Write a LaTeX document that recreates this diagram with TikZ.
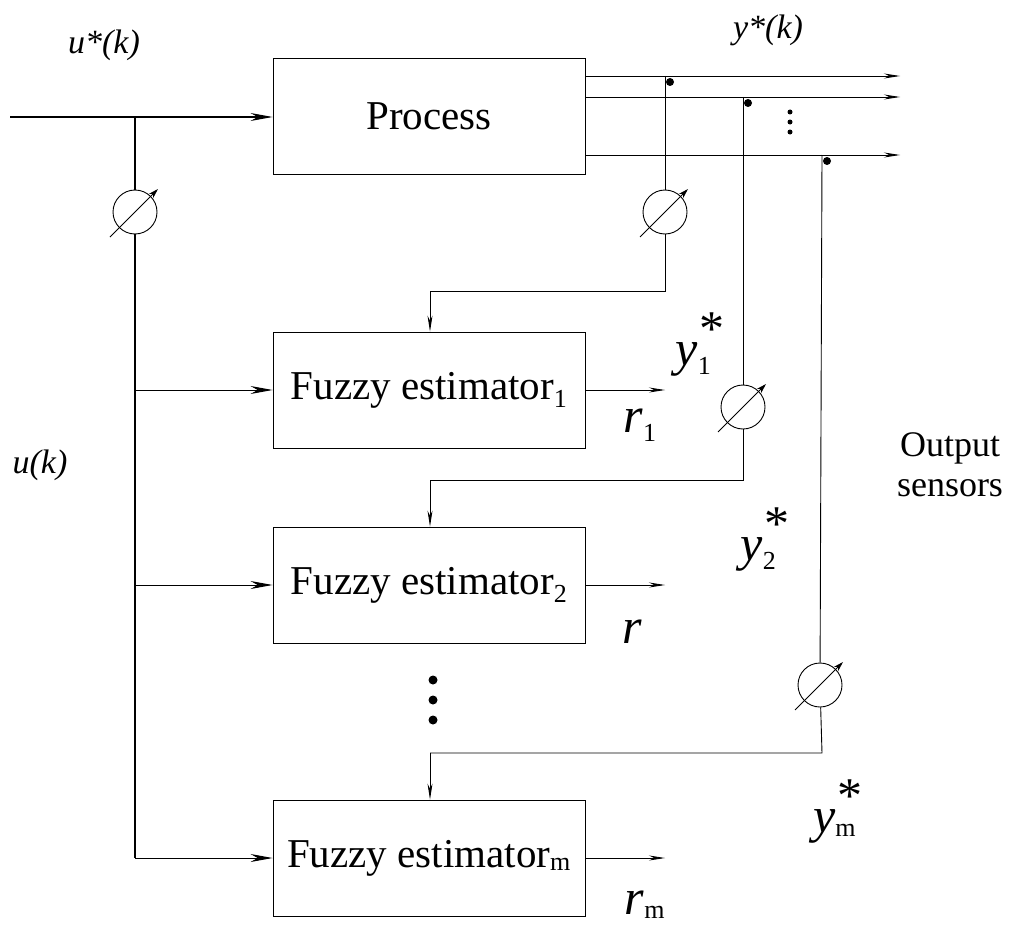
\documentclass[tikz,border=0pt]{standalone}
\usepackage{fontspec}
\setmainfont{Liberation Serif}
\usetikzlibrary{arrows.meta}
\tikzset{
  blk/.style={draw, line width=0.9pt, minimum width=312pt, minimum height=116pt, inner sep=0pt, font=\fontsize{41}{46}\selectfont},
  big/.style={-{Stealth[length=22pt,width=8pt]}, line width=1pt},
  sml/.style={-{Stealth[length=16pt,width=5pt]}, line width=0.9pt},
  lbl/.style={font=\fontsize{34}{40}\selectfont\itshape, inner sep=0pt},
  sym/.style={font=\fontsize{50}{56}\selectfont, inner sep=0pt},
  meter/.style={draw, circle, minimum size=44pt, inner sep=0pt, line width=0.9pt},
  dot/.style={circle, fill, inner sep=0pt, minimum size=8pt}
}
\newcommand{\gauge}[1]{\draw[-{Stealth[length=10pt,width=6pt]}, line width=0.9pt] (#1) ++(-25,25) -- ++(48,-48);}
\newcommand{\sub}[1]{\textsubscript{\normalfont\fontsize{26}{30}\selectfont #1}}
\begin{document}
\begin{tikzpicture}[x=1pt,y=-1pt]
\useasboundingbox (0,0) rectangle (1024,947);

%Blocks
\node[blk] (proc) at (429,116) {Process};
\node[blk] (est1) at (429,390) {Fuzzy estimator\sub{1}};
\node[blk] (est2) at (429,585) {Fuzzy estimator\sub{2}};
\node[blk] (estm) at (429,858) {Fuzzy estimator\sub{m}};

%Input side
\coordinate (in) at (10,117);
\coordinate (jn) at (135,117);
\coordinate (jb) at (135,858);
\node[meter] (mu) at (135,212) {};
\draw[big] (in) -- (proc.west |- in);
\draw[line width=1.5pt] (jn) -- (mu) -- (jb);
\gauge{mu}
\draw[big] (135,390) -- (est1.west);
\draw[big] (135,585) -- (est2.west);
\draw[big] (jb) -- (estm.west);

%Outputs
\foreach \yy/\xx/\nm in {76/665/a, 97/743/b, 155/822/c}{
  \draw[sml] (585,\yy) -- (900,\yy);
  \node[dot] (d\nm) at (\xx+5,\yy+6) {};
}
\foreach \yy in {112,122,132}{ \node[dot, minimum size=5pt] at (790,\yy) {}; }

%Sensors
\node[meter] (m1) at (665,212) {};
\node[meter] (m2) at (743,407) {};
\node[meter] (m3) at (820,685) {};
\gauge{m1} \gauge{m2} \gauge{m3}
\draw[line width=0.9pt] (665,76) -- (m1) -- (665,291) -- (430,291);
\draw[sml] (430,291) -- (est1.north -| 430,0);
\draw[line width=0.9pt] (743,97) -- (m2) -- (743,480) -- (430,480);
\draw[sml] (430,480) -- (est2.north -| 430,0);
\draw[line width=0.9pt] (822,155) -- (m3) -- (822,753) -- (430,753);
\draw[sml] (430,753) -- (estm.north -| 430,0);

%Residuals
\draw[sml] (est1.east) -- (665,390);
\draw[sml] (est2.east) -- (665,585);
\draw[sml] (estm.east) -- (665,858);
\foreach \yy in {680,700,720}{ \node[dot, minimum size=9pt] at (433,\yy) {}; }

% Text Node
\node[lbl] (lu) at (104,45) {u*(k)};
\node[lbl] (ly) at (768,30) {y*(k)};
\node[lbl] (luk) at (40,465) {u(k)};
\node[sym] (r1) at (640,425) {\textit{r}\sub{1}};
\node[sym] (r2) at (632,632) {\textit{r}};
\node[sym] (rm) at (645,905) {\textit{r}\sub{m}};
\node[sym] (y1) at (700,345) {\textit{y}\sub{1}\hspace{-12pt}\raisebox{20pt}{*}};
\node[sym] (y2) at (765,540) {\textit{y}\sub{2}\hspace{-12pt}\raisebox{20pt}{*}};
\node[sym] (ym) at (838,812) {\textit{y}\sub{m}\hspace{-18pt}\raisebox{20pt}{*}};
\node[font=\fontsize{36}{40}\selectfont, align=center, inner sep=0pt] (os) at (950,465) {Output\\sensors};

\end{tikzpicture}
\end{document}
